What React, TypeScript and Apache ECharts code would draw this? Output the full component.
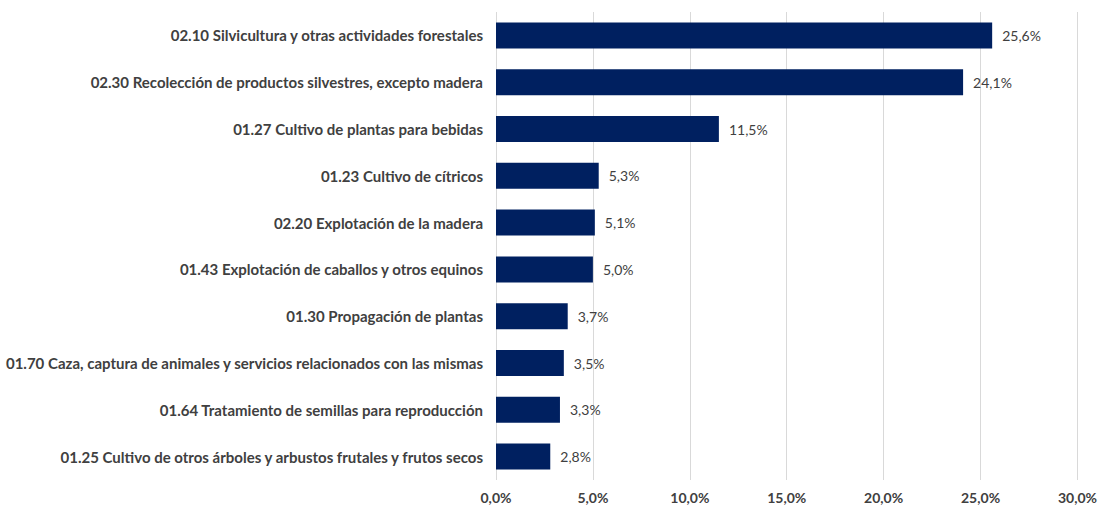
import React, { useEffect, useRef } from "react";
import * as echarts from "echarts";

const categories = [
  "02.10 Silvicultura y otras actividades forestales",
  "02.30 Recolección de productos silvestres, excepto madera",
  "01.27 Cultivo de plantas para bebidas",
  "01.23 Cultivo de cítricos",
  "02.20 Explotación de la madera",
  "01.43 Explotación de caballos y otros equinos",
  "01.30 Propagación de plantas",
  "01.70 Caza, captura de animales y servicios relacionados con las mismas",
  "01.64 Tratamiento de semillas para reproducción",
  "01.25 Cultivo de otros árboles y arbustos frutales y frutos secos",
];
const values = [25.6, 24.1, 11.5, 5.3, 5.1, 5.0, 3.7, 3.5, 3.3, 2.8];

const FONT = "Lato, 'Open Sans', sans-serif";
const fmt = (v: number) => v.toFixed(1).replace(".", ",") + "%";

export default function App() {
  const ref = useRef<HTMLDivElement>(null);
  useEffect(() => {
    if (!ref.current) return;
    const chart = echarts.init(ref.current, undefined, { renderer: "svg" });
    chart.setOption({
      animation: false,
      grid: { left: 496, right: 22, top: 12, bottom: 27, containLabel: false },
      xAxis: {
        type: "value",
        min: 0,
        max: 30,
        interval: 5,
        axisLine: { show: false },
        axisTick: { show: false },
        splitLine: { show: true, lineStyle: { color: "#d9d9d9", width: 1 } },
        axisLabel: {
          formatter: (v: number) => fmt(v),
          color: "#404040",
          fontFamily: FONT,
          fontWeight: "bold",
          fontSize: 14,
          margin: 10,
        },
      },
      yAxis: {
        type: "category",
        data: categories,
        inverse: true,
        axisLine: { show: false },
        axisTick: { show: false },
        axisLabel: {
          color: "#404040",
          fontFamily: FONT,
          fontWeight: "bold",
          fontSize: 15,
          margin: 13,
        },
      },
      series: [
        {
          type: "bar",
          data: values,
          barWidth: 26,
          itemStyle: { color: "#002060" },
          label: {
            show: true,
            position: "right",
            distance: 10,
            formatter: (p: any) => fmt(p.value),
            color: "#404040",
            fontFamily: FONT,
            fontSize: 14,
          },
        },
      ],
    });
    return () => chart.dispose();
  }, []);
  return (
    <div
      ref={ref}
      style={{ position: "absolute", left: 0, top: 0, width: 1100, height: 507 }}
    />
  );
}
